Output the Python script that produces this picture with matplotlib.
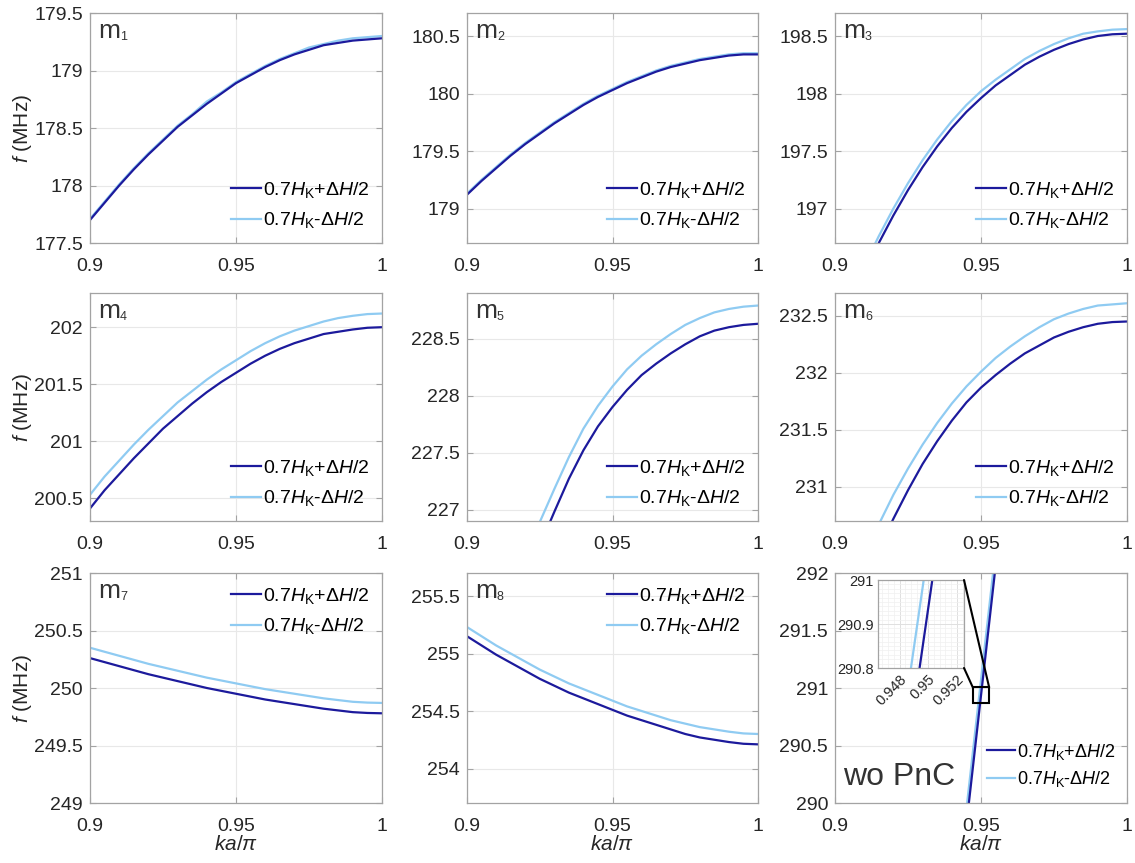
import matplotlib
matplotlib.use("Agg")
import matplotlib.pyplot as plt
from matplotlib.patches import Rectangle, ConnectionPatch
from matplotlib.ticker import MultipleLocator, FormatStrFormatter

plt.rcParams['font.family'] = ['Liberation Sans', 'DejaVu Sans']
plt.rcParams['mathtext.fontset'] = 'custom'
plt.rcParams['mathtext.rm'] = 'Liberation Sans'
plt.rcParams['mathtext.it'] = 'Liberation Sans:italic'
plt.rcParams['mathtext.bf'] = 'Liberation Sans:bold'

# ---- data: reduced wavenumber and mode frequencies (MHz) ----
ka = [0.900, 0.905, 0.910, 0.915, 0.920, 0.925, 0.930, 0.935, 0.940, 0.945,
      0.950, 0.955, 0.960, 0.965, 0.970, 0.975, 0.980, 0.985, 0.990, 0.995, 1.000]

m1_plus  = [177.70, 177.85, 178.00, 178.14, 178.27, 178.39, 178.51, 178.61, 178.71, 178.80,
            178.89, 178.96, 179.03, 179.09, 179.14, 179.18, 179.22, 179.24, 179.26, 179.27, 179.28]
m1_minus = [177.71, 177.86, 178.01, 178.15, 178.28, 178.40, 178.52, 178.62, 178.73, 178.81,
            178.90, 178.97, 179.04, 179.10, 179.15, 179.20, 179.23, 179.26, 179.28, 179.29, 179.30]
m2_plus  = [179.12, 179.24, 179.35, 179.46, 179.56, 179.65, 179.74, 179.82, 179.90, 179.97,
            180.03, 180.09, 180.14, 180.19, 180.23, 180.26, 180.29, 180.31, 180.33, 180.34, 180.34]
m2_minus = [179.13, 179.25, 179.36, 179.47, 179.57, 179.66, 179.75, 179.83, 179.91, 179.98,
            180.04, 180.10, 180.15, 180.20, 180.24, 180.27, 180.30, 180.32, 180.34, 180.35, 180.35]
m3_plus  = [195.90, 196.18, 196.44, 196.70, 196.94, 197.16, 197.36, 197.54, 197.70, 197.84,
            197.96, 198.07, 198.16, 198.25, 198.32, 198.38, 198.43, 198.47, 198.50, 198.515, 198.52]
m3_minus = [195.96, 196.24, 196.50, 196.76, 197.00, 197.22, 197.42, 197.60, 197.76, 197.90,
            198.02, 198.12, 198.21, 198.30, 198.37, 198.43, 198.48, 198.52, 198.54, 198.555, 198.56]
m4_plus  = [200.41, 200.57, 200.71, 200.85, 200.98, 201.11, 201.22, 201.33, 201.43, 201.52,
            201.60, 201.68, 201.75, 201.81, 201.86, 201.90, 201.94, 201.96, 201.98, 201.995, 202.00]
m4_minus = [200.53, 200.69, 200.83, 200.97, 201.10, 201.22, 201.34, 201.44, 201.54, 201.63,
            201.71, 201.79, 201.86, 201.92, 201.97, 202.01, 202.05, 202.08, 202.10, 202.115, 202.12]
m5_plus  = [224.90, 225.28, 225.65, 226.01, 226.35, 226.68, 226.98, 227.27, 227.52, 227.73,
            227.90, 228.05, 228.18, 228.28, 228.37, 228.45, 228.52, 228.57, 228.60, 228.62, 228.63]
m5_minus = [225.18, 225.55, 225.90, 226.25, 226.58, 226.89, 227.18, 227.46, 227.71, 227.91,
            228.08, 228.23, 228.35, 228.45, 228.54, 228.62, 228.68, 228.73, 228.76, 228.78, 228.79]
m6_plus  = [229.50, 229.84, 230.15, 230.45, 230.72, 230.97, 231.20, 231.40, 231.58, 231.74,
            231.87, 231.98, 232.08, 232.17, 232.24, 232.31, 232.36, 232.40, 232.43, 232.445, 232.45]
m6_minus = [229.75, 230.07, 230.38, 230.67, 230.93, 231.16, 231.37, 231.56, 231.73, 231.88,
            232.01, 232.13, 232.23, 232.32, 232.40, 232.47, 232.52, 232.56, 232.59, 232.60, 232.61]
m7_plus  = [250.26, 250.225, 250.19, 250.155, 250.12, 250.09, 250.06, 250.03, 250.00, 249.975,
            249.95, 249.925, 249.90, 249.88, 249.86, 249.84, 249.82, 249.805, 249.79, 249.783, 249.78]
m7_minus = [250.35, 250.315, 250.28, 250.245, 250.21, 250.18, 250.15, 250.12, 250.09, 250.065,
            250.04, 250.015, 249.99, 249.97, 249.95, 249.93, 249.91, 249.895, 249.88, 249.873, 249.87]
m8_plus  = [255.15, 255.07, 254.99, 254.92, 254.85, 254.78, 254.72, 254.66, 254.61, 254.56,
            254.51, 254.46, 254.42, 254.38, 254.34, 254.30, 254.27, 254.25, 254.23, 254.215, 254.21]
m8_minus = [255.23, 255.15, 255.07, 255.00, 254.93, 254.86, 254.80, 254.74, 254.69, 254.64,
            254.59, 254.54, 254.50, 254.46, 254.42, 254.39, 254.36, 254.34, 254.32, 254.305, 254.30]

# film without phononic crystal: straight dispersion line
ka_bulk = [0.945, 0.950, 0.955]
bulk_plus  = [289.81, 290.935, 292.06]
bulk_minus = [289.945, 291.07, 292.195]

labels_plus = r'0.7$\mathit{H}_{\mathrm{K}}$+$\mathit{\Delta H}$/2'
labels_minus = r'0.7$\mathit{H}_{\mathrm{K}}$-$\mathit{\Delta H}$/2'
mode_names = ['1', '2', '3', '4', '5', '6', '7', '8']
x_ticks = [0.9, 0.95, 1.0]
x_ticklabels = ['0.9', '0.95', '1']

C_PLUS = '#1c1a9c'
C_MINUS = '#8fcbf2'
SPINE = '#a3a3a3'
GRID = '#e8e8e8'
TXT = '#262626'

W, H = 1135, 863
fig = plt.figure(figsize=(W / 100, H / 100), dpi=100)

col_x = [90, 467, 835]
col_w = [292, 291, 292]
row_top = [13, 293, 573]
row_h = [230, 228, 230]


def make_axes(r, c):
    x0, w = col_x[c], col_w[c]
    y0, h = row_top[r], row_h[r]
    return fig.add_axes([x0 / W, 1 - (y0 + h) / H, w / W, h / H])


def style(ax, fs=14):
    for s in ax.spines.values():
        s.set_color(SPINE)
        s.set_linewidth(0.9)
    ax.tick_params(direction='in', length=4, width=0.8, color=SPINE,
                   top=True, right=True, labelsize=fs, labelcolor=TXT)
    ax.tick_params(axis='x', pad=11)
    ax.tick_params(axis='y', pad=5)
    ax.grid(True, color=GRID, linewidth=0.8)
    ax.set_axisbelow(True)


panels = [
    (m1_plus, m1_minus, 177.5, 'lower right'),
    (m2_plus, m2_minus, 178.7, 'lower right'),
    (m3_plus, m3_minus, 196.7, 'lower right'),
    (m4_plus, m4_minus, 200.3, 'lower right'),
    (m5_plus, m5_minus, 226.9, 'lower right'),
    (m6_plus, m6_minus, 230.7, 'lower right'),
    (m7_plus, m7_minus, 249.0, 'upper right'),
    (m8_plus, m8_minus, 253.7, 'upper right'),
]


def mode_tag(ax, main, sub, size=19, subsize=9, x=0.027, y=0.87):
    t = ax.text(x, y, main, transform=ax.transAxes, fontsize=size,
                color='#333333', va='bottom', ha='left')
    if sub:
        ax.annotate(sub, xy=(1, 0), xycoords=t, fontsize=subsize,
                    color='#333333', va='bottom', ha='left')


for i, (yp, ym, ylo, loc) in enumerate(panels):
    r, c = divmod(i, 3)
    ax = make_axes(r, c)
    style(ax)
    lm, = ax.plot(ka, ym, color=C_MINUS, lw=1.6, label=labels_minus)
    lp, = ax.plot(ka, yp, color=C_PLUS, lw=1.6, label=labels_plus)
    ax.set_xlim(0.9, 1.0)
    ax.set_ylim(ylo, ylo + 2.0)
    ax.set_xticks(x_ticks)
    ax.set_xticklabels(x_ticklabels)
    ax.yaxis.set_major_locator(MultipleLocator(0.5))
    ax.yaxis.set_major_formatter(FormatStrFormatter('%g'))
    if loc == 'lower right':
        anchor = (1.0, 0.0)
    else:
        anchor = (1.0, 1.0)
    ax.legend(handles=[lp, lm], loc=loc, bbox_to_anchor=anchor,
              frameon=False, fontsize=14, handlelength=1.55,
              handletextpad=0.1, labelspacing=0.55, borderaxespad=0.25)
    mode_tag(ax, 'm', mode_names[i])
    if c == 0:
        ax.set_ylabel(r'$\mathit{f}$ (MHz)', fontsize=15, color=TXT, labelpad=0)
    if r == 2:
        ax.set_xlabel(r'$\mathit{ka}$/$\pi$', fontsize=15, color=TXT, labelpad=0)

# ---- panel without phononic crystal ----
ax9 = make_axes(2, 2)
style(ax9)
lm9, = ax9.plot(ka_bulk, bulk_minus, color=C_MINUS, lw=1.6, label=labels_minus)
lp9, = ax9.plot(ka_bulk, bulk_plus, color=C_PLUS, lw=1.6, label=labels_plus)
ax9.set_xlim(0.9, 1.0)
ax9.set_ylim(290, 292)
ax9.set_xticks(x_ticks)
ax9.set_xticklabels(x_ticklabels)
ax9.yaxis.set_major_locator(MultipleLocator(0.5))
ax9.yaxis.set_major_formatter(FormatStrFormatter('%g'))
ax9.set_xlabel(r'$\mathit{ka}$/$\pi$', fontsize=15, color=TXT, labelpad=0)
ax9.legend(handles=[lp9, lm9], loc='lower right', bbox_to_anchor=(1.0, 0.01),
           frameon=False, fontsize=13, handlelength=1.55, handletextpad=0.1,
           labelspacing=0.4, borderaxespad=0.25)
ax9.text(0.027, 0.05, 'wo PnC', transform=ax9.transAxes, fontsize=23,
         color='#333333', va='bottom', ha='left')

# zoom box marked on the line
box = Rectangle((0.9472, 290.87), 0.0056, 0.135, fill=False,
                edgecolor='black', lw=1.5, zorder=5)
ax9.add_patch(box)

# inset
ix0, iy0, ix1, iy1 = 878, 580, 964, 668
ax_in = fig.add_axes([ix0 / W, 1 - iy1 / H, (ix1 - ix0) / W, (iy1 - iy0) / H])
ax_in.plot(ka_bulk, bulk_minus, color=C_MINUS, lw=1.6)
ax_in.plot(ka_bulk, bulk_plus, color=C_PLUS, lw=1.6)
ax_in.set_xlim(0.9465, 0.9525)
ax_in.set_ylim(290.8, 291.0)
ax_in.set_xticks([0.948, 0.950, 0.952])
ax_in.set_xticklabels(['0.948', '0.95', '0.952'], rotation=45, ha='right',
                      rotation_mode='anchor')
ax_in.set_yticks([290.8, 290.9, 291.0])
ax_in.set_yticklabels(['290.8', '290.9', '291'])
ax_in.xaxis.set_minor_locator(MultipleLocator(0.0004))
ax_in.yaxis.set_minor_locator(MultipleLocator(0.01))
for s in ax_in.spines.values():
    s.set_color(SPINE)
    s.set_linewidth(0.9)
ax_in.tick_params(which='both', direction='in', length=0, labelsize=10.5,
                  labelcolor=TXT, pad=3)
ax_in.grid(True, which='major', color='#e0e0e0', linewidth=0.7)
ax_in.grid(True, which='minor', color='#f0f0f0', linewidth=0.5)
ax_in.set_axisbelow(True)

for pa, pb in [((1, 1), (0.9528, 291.005)), ((1, 0), (0.9472, 291.005))]:
    con = ConnectionPatch(xyA=pa, coordsA=ax_in.transAxes,
                          xyB=pb, coordsB=ax9.transData,
                          color='black', lw=1.5, zorder=6)
    fig.add_artist(con)

fig.savefig('out.png', dpi=100)
